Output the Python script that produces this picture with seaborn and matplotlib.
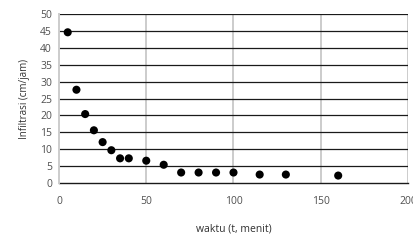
import matplotlib
matplotlib.use("Agg")
import matplotlib.pyplot as plt
import seaborn as sns
import pandas as pd

waktu = [5, 10, 15, 20, 25, 30, 35, 40, 50, 60, 70, 80, 90, 100, 115, 130, 160]
infiltrasi = [44.6, 27.6, 20.4, 15.6, 12.1, 9.7, 7.3, 7.3, 6.6, 5.4, 3.1, 3.1, 3.1, 3.1, 2.5, 2.5, 2.2]

df = pd.DataFrame({"waktu": waktu, "infiltrasi": infiltrasi})

sns.set_style("white")
plt.rcParams["font.family"] = ["Open Sans", "DejaVu Sans"]

fig = plt.figure(figsize=(4.14, 2.4), dpi=100)
ax = fig.add_axes([0.1425, 0.2375, 0.843, 0.704])

sns.scatterplot(data=df, x="waktu", y="infiltrasi", ax=ax, color="black",
                s=34, edgecolor="none", zorder=3, clip_on=False)

ax.set_xlim(0, 200)
ax.set_ylim(0, 50)
ax.set_xticks(range(0, 201, 50))
ax.set_yticks(range(0, 51, 5))

# vertical grid light gray, horizontal grid dark
for x in range(50, 201, 50):
    ax.axvline(x, color="#cccccc", lw=1.4, zorder=1)
for y in range(5, 51, 5):
    ax.axhline(y, color="#1a1a1a", lw=0.9, zorder=2)

for side in ["top", "right"]:
    ax.spines[side].set_visible(False)
ax.spines["left"].set_color("#cccccc")
ax.spines["left"].set_linewidth(1.4)
ax.spines["bottom"].set_color("#1a1a1a")
ax.spines["bottom"].set_linewidth(1.0)
ax.spines["bottom"].set_zorder(2)

ax.tick_params(axis="both", length=0, labelsize=7.5, colors="#505050", pad=9)
ax.tick_params(axis="y", pad=5)
ax.set_xlabel("waktu (t, menit)", fontsize=7.5, color="#303030", labelpad=12)
ax.set_ylabel("Infiltrasi (cm/jam)", fontsize=7, color="#303030", labelpad=7)

fig.savefig("out.png", dpi=100)
